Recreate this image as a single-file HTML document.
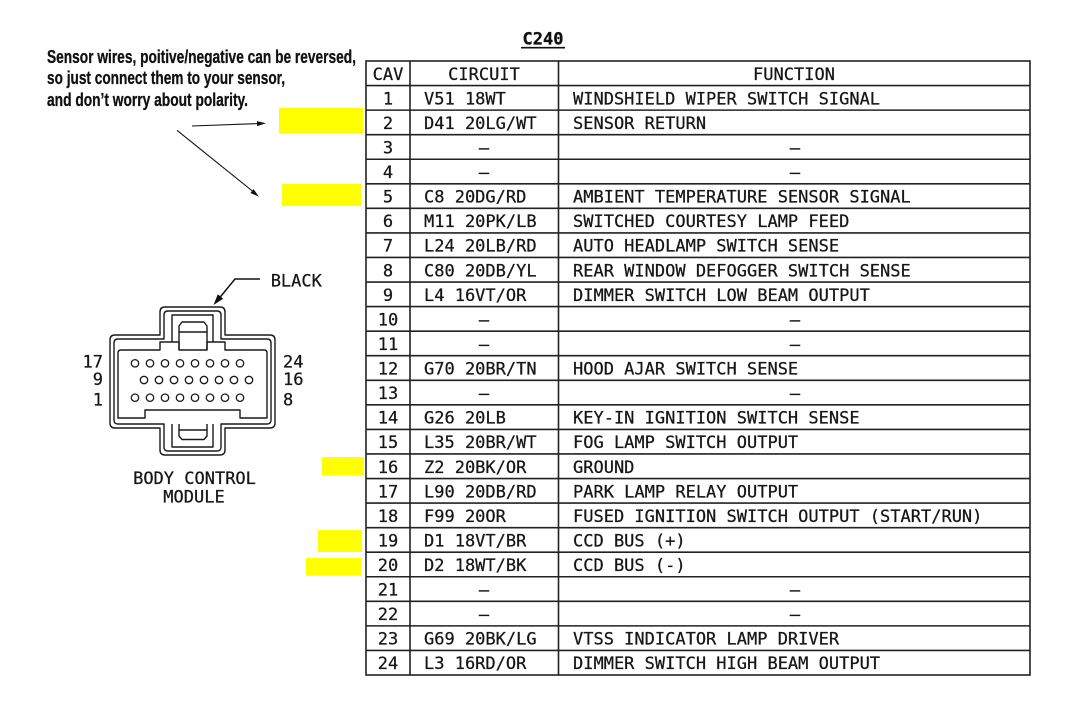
<!DOCTYPE html>
<html>
<head>
<meta charset="utf-8">
<style>
  html, body { margin:0; padding:0; background:#ffffff; }
  svg { display:block; }
  .m { font-family:"DejaVu Sans Mono", "Liberation Mono", monospace; font-size:17px; fill:#161616; stroke:#161616; stroke-width:0.25; }
  .h { font-family:"Liberation Sans", sans-serif; font-weight:bold; font-size:18px; fill:#111; stroke:#111; stroke-width:0.3; }
</style>
</head>
<body>
<svg width="1090" height="721" viewBox="0 0 1090 721" xmlns="http://www.w3.org/2000/svg">
  <rect x="0" y="0" width="1090" height="721" fill="#ffffff"/>

  <!-- Note text -->
  <text class="h" x="47" y="63" textLength="309" lengthAdjust="spacingAndGlyphs">Sensor wires, poitive/negative can be reversed,</text>
  <text class="h" x="47" y="84" textLength="238" lengthAdjust="spacingAndGlyphs">so just connect them to your sensor,</text>
  <text class="h" x="47" y="106" textLength="201" lengthAdjust="spacingAndGlyphs">and don’t worry about polarity.</text>

  <!-- Arrows -->
  <g stroke="#111" stroke-width="1.1" fill="none">
    <line x1="192" y1="126" x2="258" y2="123.6"/>
    <line x1="177" y1="130.3" x2="253" y2="191.5"/>
  </g>
  <polygon points="266,123.3 257.09,126.13 256.91,121.13" fill="#111"/>
  <polygon points="259,196.7 250.43,192.98 253.57,189.1" fill="#111"/>

  <!-- Yellow highlights -->
  <g fill="#ffff00">
    <rect x="279" y="108" width="84" height="25"/>
    <rect x="282" y="184" width="79" height="22"/>
    <rect x="322" y="457" width="42" height="18.5"/>
    <rect x="318" y="530" width="44" height="22"/>
    <rect x="306" y="558" width="55" height="17.5"/>
  </g>

  <!-- C240 title -->
  <text x="543" y="44.5" text-anchor="middle" style="font-family:'DejaVu Sans Mono','Liberation Mono',monospace;font-weight:bold;font-size:17px;fill:#111;stroke:#111;stroke-width:0.3;">C240</text>
  <line x1="521" y1="47.7" x2="565" y2="47.7" stroke="#111" stroke-width="1.6"/>

  <!-- Table grid -->
  <g stroke="#222" stroke-width="1.6" fill="none">
    <rect x="366" y="61" width="664" height="614"/>
    <line x1="410" y1="61" x2="410" y2="675"/>
    <line x1="558.5" y1="61" x2="558.5" y2="675"/>
    <line x1="366" y1="85.56" x2="1030" y2="85.56"/>
    <line x1="366" y1="110.12" x2="1030" y2="110.12"/>
    <line x1="366" y1="134.68" x2="1030" y2="134.68"/>
    <line x1="366" y1="159.24" x2="1030" y2="159.24"/>
    <line x1="366" y1="183.8" x2="1030" y2="183.8"/>
    <line x1="366" y1="208.36" x2="1030" y2="208.36"/>
    <line x1="366" y1="232.92" x2="1030" y2="232.92"/>
    <line x1="366" y1="257.48" x2="1030" y2="257.48"/>
    <line x1="366" y1="282.04" x2="1030" y2="282.04"/>
    <line x1="366" y1="306.6" x2="1030" y2="306.6"/>
    <line x1="366" y1="331.16" x2="1030" y2="331.16"/>
    <line x1="366" y1="355.72" x2="1030" y2="355.72"/>
    <line x1="366" y1="380.28" x2="1030" y2="380.28"/>
    <line x1="366" y1="404.84" x2="1030" y2="404.84"/>
    <line x1="366" y1="429.4" x2="1030" y2="429.4"/>
    <line x1="366" y1="453.96" x2="1030" y2="453.96"/>
    <line x1="366" y1="478.52" x2="1030" y2="478.52"/>
    <line x1="366" y1="503.08" x2="1030" y2="503.08"/>
    <line x1="366" y1="527.64" x2="1030" y2="527.64"/>
    <line x1="366" y1="552.2" x2="1030" y2="552.2"/>
    <line x1="366" y1="576.76" x2="1030" y2="576.76"/>
    <line x1="366" y1="601.32" x2="1030" y2="601.32"/>
    <line x1="366" y1="625.88" x2="1030" y2="625.88"/>
    <line x1="366" y1="650.44" x2="1030" y2="650.44"/>
  </g>

  <!-- Header -->
  <text class="m" x="388" y="79.8" text-anchor="middle">CAV</text>
  <text class="m" x="484" y="79.8" text-anchor="middle">CIRCUIT</text>
  <text class="m" x="794" y="79.8" text-anchor="middle">FUNCTION</text>

  <!-- CAV numbers -->
  <text class="m" x="388" y="104.36" text-anchor="middle">1</text>
  <text class="m" x="388" y="128.92" text-anchor="middle">2</text>
  <text class="m" x="388" y="153.48" text-anchor="middle">3</text>
  <text class="m" x="388" y="178.04" text-anchor="middle">4</text>
  <text class="m" x="388" y="202.6" text-anchor="middle">5</text>
  <text class="m" x="388" y="227.16" text-anchor="middle">6</text>
  <text class="m" x="388" y="251.72" text-anchor="middle">7</text>
  <text class="m" x="388" y="276.28" text-anchor="middle">8</text>
  <text class="m" x="388" y="300.84" text-anchor="middle">9</text>
  <text class="m" x="388" y="325.4" text-anchor="middle">10</text>
  <text class="m" x="388" y="349.96" text-anchor="middle">11</text>
  <text class="m" x="388" y="374.52" text-anchor="middle">12</text>
  <text class="m" x="388" y="399.08" text-anchor="middle">13</text>
  <text class="m" x="388" y="423.64" text-anchor="middle">14</text>
  <text class="m" x="388" y="448.2" text-anchor="middle">15</text>
  <text class="m" x="388" y="472.76" text-anchor="middle">16</text>
  <text class="m" x="388" y="497.32" text-anchor="middle">17</text>
  <text class="m" x="388" y="521.88" text-anchor="middle">18</text>
  <text class="m" x="388" y="546.44" text-anchor="middle">19</text>
  <text class="m" x="388" y="571" text-anchor="middle">20</text>
  <text class="m" x="388" y="595.56" text-anchor="middle">21</text>
  <text class="m" x="388" y="620.12" text-anchor="middle">22</text>
  <text class="m" x="388" y="644.68" text-anchor="middle">23</text>
  <text class="m" x="388" y="669.24" text-anchor="middle">24</text>

  <!-- Circuit column -->
  <text class="m" x="424" y="104.36">V51 18WT</text>
  <text class="m" x="424" y="128.92">D41 20LG/WT</text>
  <text class="m" x="484" y="153.48" text-anchor="middle">–</text>
  <text class="m" x="484" y="178.04" text-anchor="middle">–</text>
  <text class="m" x="424" y="202.6">C8 20DG/RD</text>
  <text class="m" x="424" y="227.16">M11 20PK/LB</text>
  <text class="m" x="424" y="251.72">L24 20LB/RD</text>
  <text class="m" x="424" y="276.28">C80 20DB/YL</text>
  <text class="m" x="424" y="300.84">L4 16VT/OR</text>
  <text class="m" x="484" y="325.4" text-anchor="middle">–</text>
  <text class="m" x="484" y="349.96" text-anchor="middle">–</text>
  <text class="m" x="424" y="374.52">G70 20BR/TN</text>
  <text class="m" x="484" y="399.08" text-anchor="middle">–</text>
  <text class="m" x="424" y="423.64">G26 20LB</text>
  <text class="m" x="424" y="448.2">L35 20BR/WT</text>
  <text class="m" x="424" y="472.76">Z2 20BK/OR</text>
  <text class="m" x="424" y="497.32">L90 20DB/RD</text>
  <text class="m" x="424" y="521.88">F99 20OR</text>
  <text class="m" x="424" y="546.44">D1 18VT/BR</text>
  <text class="m" x="424" y="571">D2 18WT/BK</text>
  <text class="m" x="484" y="595.56" text-anchor="middle">–</text>
  <text class="m" x="484" y="620.12" text-anchor="middle">–</text>
  <text class="m" x="424" y="644.68">G69 20BK/LG</text>
  <text class="m" x="424" y="669.24">L3 16RD/OR</text>

  <!-- Function column -->
  <text class="m" x="573" y="104.36">WINDSHIELD WIPER SWITCH SIGNAL</text>
  <text class="m" x="573" y="128.92">SENSOR RETURN</text>
  <text class="m" x="795" y="153.48" text-anchor="middle">–</text>
  <text class="m" x="795" y="178.04" text-anchor="middle">–</text>
  <text class="m" x="573" y="202.6">AMBIENT TEMPERATURE SENSOR SIGNAL</text>
  <text class="m" x="573" y="227.16">SWITCHED COURTESY LAMP FEED</text>
  <text class="m" x="573" y="251.72">AUTO HEADLAMP SWITCH SENSE</text>
  <text class="m" x="573" y="276.28">REAR WINDOW DEFOGGER SWITCH SENSE</text>
  <text class="m" x="573" y="300.84">DIMMER SWITCH LOW BEAM OUTPUT</text>
  <text class="m" x="795" y="325.4" text-anchor="middle">–</text>
  <text class="m" x="795" y="349.96" text-anchor="middle">–</text>
  <text class="m" x="573" y="374.52">HOOD AJAR SWITCH SENSE</text>
  <text class="m" x="795" y="399.08" text-anchor="middle">–</text>
  <text class="m" x="573" y="423.64">KEY-IN IGNITION SWITCH SENSE</text>
  <text class="m" x="573" y="448.2">FOG LAMP SWITCH OUTPUT</text>
  <text class="m" x="573" y="472.76">GROUND</text>
  <text class="m" x="573" y="497.32">PARK LAMP RELAY OUTPUT</text>
  <text class="m" x="573" y="521.88">FUSED IGNITION SWITCH OUTPUT (START/RUN)</text>
  <text class="m" x="573" y="546.44">CCD BUS (+)</text>
  <text class="m" x="573" y="571">CCD BUS (-)</text>
  <text class="m" x="795" y="595.56" text-anchor="middle">–</text>
  <text class="m" x="795" y="620.12" text-anchor="middle">–</text>
  <text class="m" x="573" y="644.68">VTSS INDICATOR LAMP DRIVER</text>
  <text class="m" x="573" y="669.24">DIMMER SWITCH HIGH BEAM OUTPUT</text>

  <!-- Connector drawing -->
  <g stroke="#1a1a1a" stroke-width="1.4" fill="none" stroke-linejoin="round">
    <path d="M165,307 H220 Q225,307 225,312 V335 H270 Q275,335 275,340 V423 Q275,428 270,428 H225 V450 Q225,455 220,455 H165 Q160,455 160,450 V428 H115 Q110,428 110,423 V340 Q110,335 115,335 H160 V312 Q160,307 165,307 Z"/>
    <path d="M168,311 H217 Q221,311 221,315 V339 H267 Q271,339 271,343 V420 Q271,424 267,424 H221 V447 Q221,451 217,451 H168 Q164,451 164,447 V424 H118 Q114,424 114,420 V343 Q114,339 118,339 H164 V315 Q164,311 168,311 Z"/>
    <path d="M121,350 H160 V342 H179 V350 H207 V342 H225 V350 H264 Q267,350 267,353 V418 H240 V410 H145 V418 H118 V353 Q118,350 121,350 Z"/>
    <path d="M172,342 V315 H213 V342"/>
    <path d="M179,350 V326 L182,322 H204 L207,326 V350"/>
    <line x1="179" y1="332" x2="207" y2="332"/>
    <path d="M172,424 V447 H213 V424"/>
    <path d="M179,424 V436 L182,439.5 H204 L207,436 V424"/>
    <line x1="179" y1="430" x2="207" y2="430"/>
  </g>

  <!-- Pins -->
  <g stroke="#1a1a1a" stroke-width="1.3" fill="none">
    <circle cx="135" cy="363.3" r="3.7"/><circle cx="150" cy="363.3" r="3.7"/><circle cx="165" cy="363.3" r="3.7"/><circle cx="180" cy="363.3" r="3.7"/>
    <circle cx="195" cy="363.3" r="3.7"/><circle cx="210" cy="363.3" r="3.7"/><circle cx="225" cy="363.3" r="3.7"/><circle cx="240" cy="363.3" r="3.7"/>
    <circle cx="144" cy="380" r="3.7"/><circle cx="159" cy="380" r="3.7"/><circle cx="174" cy="380" r="3.7"/><circle cx="189" cy="380" r="3.7"/>
    <circle cx="204" cy="380" r="3.7"/><circle cx="219" cy="380" r="3.7"/><circle cx="234" cy="380" r="3.7"/><circle cx="249" cy="380" r="3.7"/>
    <circle cx="135" cy="397.7" r="3.7"/><circle cx="150" cy="397.7" r="3.7"/><circle cx="165" cy="397.7" r="3.7"/><circle cx="180" cy="397.7" r="3.7"/>
    <circle cx="195" cy="397.7" r="3.7"/><circle cx="210" cy="397.7" r="3.7"/><circle cx="225" cy="397.7" r="3.7"/><circle cx="240" cy="397.7" r="3.7"/>
  </g>

  <!-- Pin labels -->
  <text class="m" x="103" y="367.7" text-anchor="end">17</text>
  <text class="m" x="103" y="385" text-anchor="end">9</text>
  <text class="m" x="103" y="405.7" text-anchor="end">1</text>
  <text class="m" x="283" y="367.7">24</text>
  <text class="m" x="283" y="385">16</text>
  <text class="m" x="283" y="405.7">8</text>

  <!-- BLACK leader -->
  <polyline points="260,279 235,279 219,298.5" stroke="#111" stroke-width="1.5" fill="none"/>
  <polygon points="213.5,305 223.2,298.7 217.8,294.3" fill="#111"/>
  <text class="m" x="270.7" y="286.7">BLACK</text>

  <!-- Module label -->
  <text class="m" x="194.5" y="484" text-anchor="middle">BODY CONTROL</text>
  <text class="m" x="194" y="502.3" text-anchor="middle">MODULE</text>
</svg>
</body>
</html>
